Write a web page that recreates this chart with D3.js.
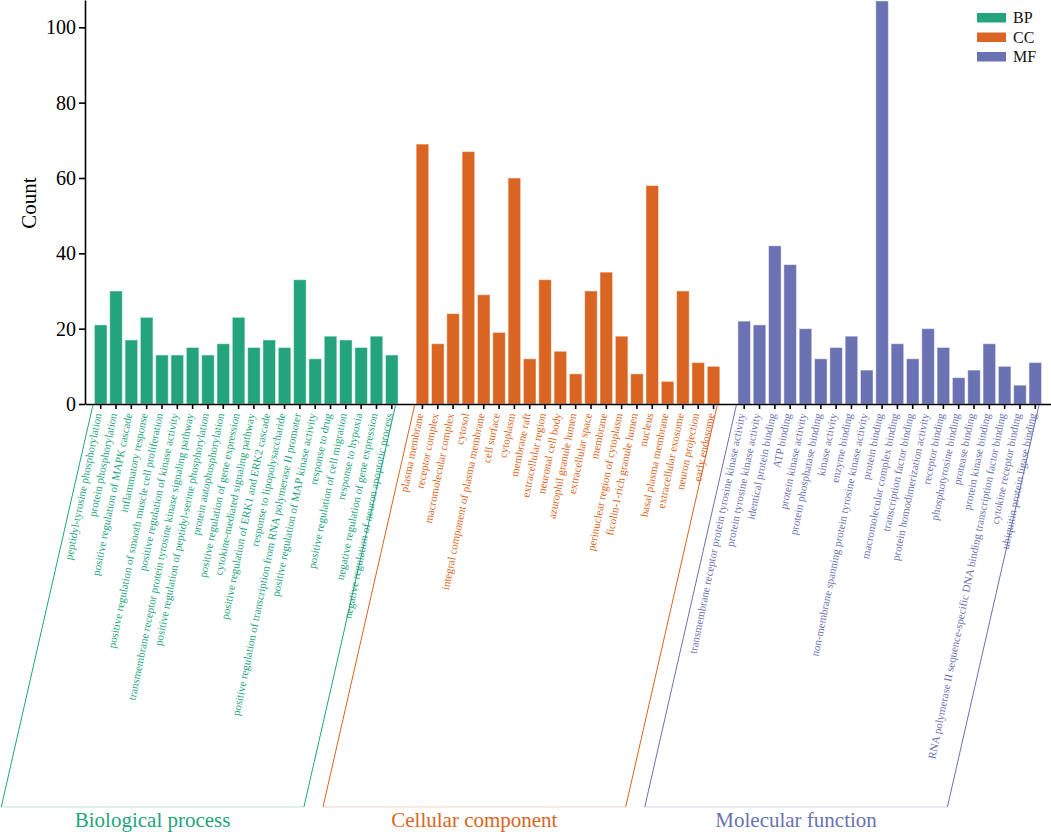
<!DOCTYPE html>
<html>
<head>
<meta charset="utf-8">
<script src="https://cdn.jsdelivr.net/npm/d3@7"></script>
<style>
  html, body { margin: 0; padding: 0; background: #fff; }
  svg { display: block; }
  svg text { font-family: "Liberation Serif", "Times New Roman", "DejaVu Serif", serif !important; }
</style>
</head>
<body>
<svg id="chart" width="1051" height="832"></svg>
<script>
// ---------------- data ----------------
const groups = ["BP", "CC", "MF"];
const groupTitles = ["Biological process", "Cellular component", "Molecular function"];
const groupColors = ["#24a47c", "#da6522", "#6a72b3"];

const bpTerms = [
  "peptidyl-tyrosine phosphorylation",
  "protein phosphorylation",
  "positive regulation of MAPK cascade",
  "inflammatory response",
  "positive regulation of smooth muscle cell proliferation",
  "positive regulation of kinase activity",
  "transmembrane receptor protein tyrosine kinase signaling pathway",
  "positive regulation of peptidyl-serine phosphorylation",
  "protein autophosphorylation",
  "positive regulation of gene expression",
  "cytokine-mediated signaling pathway",
  "positive regulation of ERK1 and ERK2 cascade",
  "response to lipopolysaccharide",
  "positive regulation of transcription from RNA polymerase II promoter",
  "positive regulation of MAP kinase activity",
  "response to drug",
  "positive regulation of cell migration",
  "response to hypoxia",
  "negative regulation of gene expression",
  "negative regulation of neuron apoptotic process"
];
const bpCounts = [21, 30, 17, 23, 13, 13, 15, 13, 16, 23, 15, 17, 15, 33, 12, 18, 17, 15, 18, 13];

const ccTerms = [
  "plasma membrane",
  "receptor complex",
  "macromolecular complex",
  "cytosol",
  "integral component of plasma membrane",
  "cell surface",
  "cytoplasm",
  "membrane raft",
  "extracellular region",
  "neuronal cell body",
  "azurophil granule lumen",
  "extracellular space",
  "membrane",
  "perinuclear region of cytoplasm",
  "ficolin-1-rich granule lumen",
  "nucleus",
  "basal plasma membrane",
  "extracellular exosome",
  "neuron projection",
  "early endosome"
];
const ccCounts = [69, 16, 24, 67, 29, 19, 60, 12, 33, 14, 8, 30, 35, 18, 8, 58, 6, 30, 11, 10];

const mfTerms = [
  "transmembrane receptor protein tyrosine kinase activity",
  "protein tyrosine kinase activity",
  "identical protein binding",
  "ATP binding",
  "protein kinase activity",
  "protein phosphatase binding",
  "kinase activity",
  "enzyme binding",
  "non-membrane spanning protein tyrosine kinase activity",
  "protein binding",
  "macromolecular complex binding",
  "transcription factor binding",
  "protein homodimerization activity",
  "receptor binding",
  "phosphotyrosine binding",
  "protease binding",
  "protein kinase binding",
  "RNA polymerase II sequence-specific DNA binding transcription factor binding",
  "cytokine receptor binding",
  "ubiquitin protein ligase binding"
];
const mfCounts = [22, 21, 42, 37, 20, 12, 15, 18, 9, 107, 16, 12, 20, 15, 7, 9, 16, 10, 5, 11];

const yTicks = [0, 20, 40, 60, 80, 100];
const yMax = 107.25;

// ---------------- build ----------------
const termLists = [bpTerms, ccTerms, mfTerms];
const countLists = [bpCounts, ccCounts, mfCounts];

const rows = [];
const domain = [];
termLists.forEach((terms, g) => {
  if (g > 0) domain.push("gap" + g);
  terms.forEach((t, i) => {
    const key = groups[g] + ":" + t;
    domain.push(key);
    rows.push({ key, term: t, count: countLists[g][i], g });
  });
});

const svg = d3.select("#chart");
const plotLeft = 85, plotRight = 1051, plotBottom = 404, plotTop = 0;

const x = d3.scaleBand().domain(domain).range([plotLeft, plotRight])
  .paddingInner(0.18).paddingOuter(0.615);
const y = d3.scaleLinear().domain([0, yMax]).range([plotBottom, plotTop]);

// bars
svg.append("g").selectAll("rect").data(rows).join("rect")
  .attr("x", d => x(d.key))
  .attr("y", d => y(d.count))
  .attr("width", x.bandwidth())
  .attr("height", d => y(0) - y(d.count))
  .attr("fill", d => groupColors[d.g])
  .attr("stroke", "#ffffff")
  .attr("stroke-opacity", 0.45)
  .attr("stroke-width", 1);

// y axis
const yAxis = svg.append("g").attr("transform", `translate(${plotLeft},0)`)
  .call(d3.axisLeft(y).tickValues(yTicks).tickSize(6).tickSizeOuter(0));
yAxis.attr("font-family", null);
yAxis.select(".domain").attr("stroke", "#000").attr("stroke-width", 1.6);
yAxis.selectAll(".tick line").attr("stroke", "#000").attr("stroke-width", 1.6);
yAxis.selectAll(".tick text")
  .attr("font-size", 20).attr("fill", "#000").attr("x", -9);

// x axis
const xAxis = svg.append("g").attr("transform", `translate(0,${plotBottom})`)
  .call(d3.axisBottom(x).tickValues(rows.map(r => r.key)).tickSize(5).tickSizeOuter(0).tickFormat(""));
xAxis.select(".domain").attr("stroke", "#000").attr("stroke-width", 1.6);
xAxis.selectAll(".tick line").attr("stroke", "#000").attr("stroke-width", 1.6);

// y title
svg.append("text")
  .attr("transform", `translate(36,203) rotate(-90)`)
  .attr("text-anchor", "middle")
  .attr("font-size", 21).attr("fill", "#000")
  .text("Count");

// x tick labels
svg.append("g").selectAll("text").data(rows).join("text")
  .attr("transform", d => `translate(${x(d.key) + x.bandwidth() / 2 + 1},${plotBottom + 10}) rotate(-78.5)`)
  .attr("text-anchor", "end")
  .attr("font-size", 11)
  .attr("fill", d => groupColors[d.g])
  .text(d => d.term);

// group brackets and titles
const slope = 0.228, lineTop = 405, lineBottom = 807;
groups.forEach((gname, g) => {
  const keys = termLists[g].map(t => gname + ":" + t);
  const x0 = x(keys[0]) - 1.5;
  const x1 = x(keys[keys.length - 1]) + x.bandwidth() - 2.5;
  const drop = (lineBottom - lineTop) * slope;
  const gg = svg.append("g");
  gg.append("line").attr("x1", x0).attr("y1", lineTop).attr("x2", x0 - drop).attr("y2", lineBottom)
    .attr("stroke", groupColors[g]).attr("stroke-width", 1);
  gg.append("line").attr("x1", x1).attr("y1", lineTop).attr("x2", x1 - drop).attr("y2", lineBottom)
    .attr("stroke", groupColors[g]).attr("stroke-width", 1);
  gg.append("line").attr("x1", x0 - drop).attr("y1", lineBottom).attr("x2", x1 - drop).attr("y2", lineBottom)
    .attr("stroke", groupColors[g]).attr("stroke-opacity", 0.15).attr("stroke-width", 2);
  gg.append("text")
    .attr("x", (x0 + x1) / 2 - drop)
    .attr("y", 827)
    .attr("text-anchor", "middle")
    .attr("font-size", 21)
    .attr("fill", groupColors[g])
    .text(groupTitles[g]);
});

// legend
const legend = svg.append("g").attr("transform", "translate(977,13)");
groups.forEach((gname, g) => {
  legend.append("rect").attr("x", 0).attr("y", g * 19.5).attr("width", 29).attr("height", 9.5)
    .attr("fill", groupColors[g]);
  legend.append("text").attr("x", 36).attr("y", g * 19.5 + 10)
    .attr("font-size", 16).attr("fill", "#111").text(gname);
});
</script>
</body>
</html>
